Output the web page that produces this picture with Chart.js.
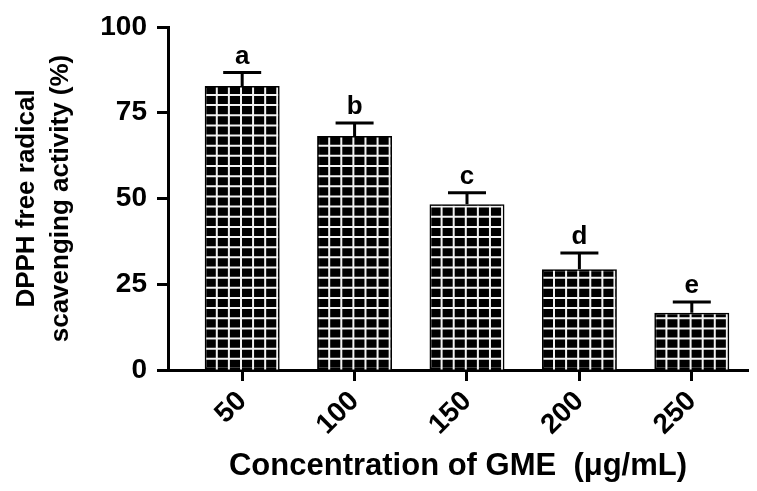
<!DOCTYPE html>
<html>
<head>
<meta charset="utf-8">
<script src="https://cdn.jsdelivr.net/npm/chart.js@4.4.1/dist/chart.umd.min.js"></script>
<style>
  html, body { margin: 0; padding: 0; background: #fff; }
  #wrap { width: 757px; height: 491px; }
</style>
</head>
<body>
<div id="wrap"><canvas id="dpphChart" width="757" height="491"></canvas></div>
<script>
// values
const concentrations = ['50', '100', '150', '200', '250'];
const scavenging = [82.8, 68.2, 48.3, 29.4, 16.7];
const errors = [3.9, 3.8, 3.4, 4.7, 3.1];
const letters = ['a', 'b', 'c', 'd', 'e'];

const FONT = '"Liberation Sans", Arial, sans-serif';

// white grid lines inside each bar, then error whiskers and letters
const hatchAndErrors = {
  id: 'hatchAndErrors',
  afterDatasetsDraw(chart) {
    const ctx = chart.ctx;
    const meta = chart.getDatasetMeta(0);
    const yScale = chart.scales.y;
    const base = yScale.getPixelForValue(0) - 1;
    const stepY = 10.15;

    meta.data.forEach((bar, i) => {
      const w = bar.width;
      const left = bar.x - w / 2;
      const top = bar.y;
      const stepX = w / 6.2;

      ctx.save();
      ctx.beginPath();
      ctx.rect(left + 1.5, top + 1.5, w - 3, base - top - 1);
      ctx.clip();
      ctx.strokeStyle = '#f2f2f2';
      ctx.lineWidth = 2;
      ctx.beginPath();
      for (let k = 1; k <= 6; k++) {
        const x = left + stepX * k;
        ctx.moveTo(x, top);
        ctx.lineTo(x, base + 2);
      }
      for (let y = base - stepY; y > top; y -= stepY) {
        ctx.moveTo(left, y);
        ctx.lineTo(left + w, y);
      }
      ctx.stroke();
      ctx.restore();

      // error bar (upper only)
      const yTop = yScale.getPixelForValue(scavenging[i] + errors[i]);
      ctx.save();
      ctx.strokeStyle = '#000';
      ctx.lineWidth = 3;
      ctx.beginPath();
      ctx.moveTo(bar.x, top);
      ctx.lineTo(bar.x, yTop);
      ctx.moveTo(bar.x - 19, yTop);
      ctx.lineTo(bar.x + 19, yTop);
      ctx.stroke();

      ctx.fillStyle = '#000';
      ctx.font = 'bold 26px ' + FONT;
      ctx.textAlign = 'center';
      ctx.textBaseline = 'alphabetic';
      ctx.fillText(letters[i], bar.x, yTop - 9);
      ctx.restore();
    });
  }
};

const ctx = document.getElementById('dpphChart').getContext('2d');
new Chart(ctx, {
  type: 'bar',
  data: {
    datasets: [{
      data: scavenging.map((v, i) => ({ x: i, y: v })),
      backgroundColor: '#000',
      borderColor: '#000',
      borderWidth: 2,
      borderSkipped: false,
      categoryPercentage: 1,
      barPercentage: 0.667
    }]
  },
  options: {
    responsive: false,
    animation: false,
    layout: { padding: { left: 0, right: 9, top: 27, bottom: 0 } },
    plugins: { legend: { display: false }, tooltip: { enabled: false } },
    scales: {
      x: {
        type: 'linear',
        min: -0.66,
        max: 4.5,
        offset: false,
        afterBuildTicks: (scale) => {
          scale.ticks = concentrations.map((c, i) => ({ value: i }));
        },
        afterFit: (scale) => { scale.height = 121; },
        ticks: {
          autoSkip: false,
          minRotation: 45,
          maxRotation: 45,
          padding: 4,
          color: '#000',
          font: { family: FONT, size: 28, weight: 'bold' },
          callback: (v) => concentrations[v]
        },
        grid: {
          offset: false,
          drawOnChartArea: false,
          color: '#000',
          tickLength: 11,
          tickWidth: 3
        },
        border: { color: '#000', width: 3 },
        title: {
          display: true,
          text: 'Concentration of GME  (\u03bcg/mL)',
          color: '#000',
          font: { family: FONT, size: 31, weight: 'bold' },
          padding: { top: 10, bottom: 6 }
        }
      },
      y: {
        min: 0,
        max: 100,
        afterFit: (scale) => { scale.width = 168; },
        ticks: {
          stepSize: 25,
          padding: 10,
          color: '#000',
          font: { family: FONT, size: 28, weight: 'bold' }
        },
        grid: {
          drawOnChartArea: false,
          color: '#000',
          tickLength: 11,
          tickWidth: 3
        },
        border: { color: '#000', width: 3 },
        title: {
          display: true,
          text: ['DPPH free radical', 'scavenging activity (%)'],
          color: '#000',
          font: { family: FONT, size: 26, weight: 'bold', lineHeight: 1.3 },
          padding: { top: 10, bottom: 0 }
        }
      }
    }
  },
  plugins: [hatchAndErrors]
});
</script>
</body>
</html>
